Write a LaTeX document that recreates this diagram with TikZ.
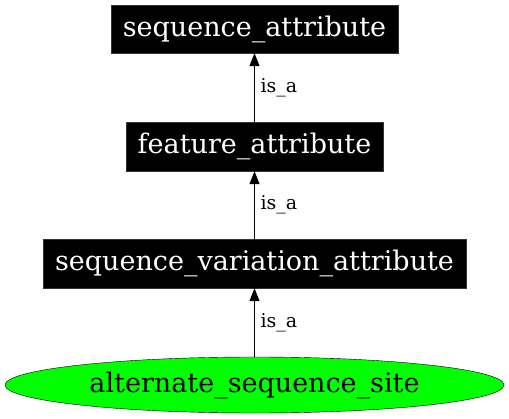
\documentclass[tikz,border=0pt]{standalone}
\usepackage{fontspec}
\setmainfont{DejaVu Serif}
\usetikzlibrary{arrows.meta,shapes.geometric}

\tikzset{
  termbox/.style={fill=black,draw=black!80,text=white,inner sep=0pt,
    font=\fontsize{27}{30}\selectfont},
  termsite/.style={ellipse,fill=green,draw=black,inner sep=0pt,
    font=\fontsize{27}{30}\selectfont},
  isa/.style={draw=black,line width=1pt,-{Triangle[length=13pt,width=10pt]}},
  isalabel/.style={midway,anchor=west,inner sep=0pt,xshift=5.5pt,
    font=\fontsize{19}{21}\selectfont}
}

\begin{document}
\begin{tikzpicture}[x=1pt,y=-1pt]

\useasboundingbox (0,0) rectangle (509,419);

\node[termbox,minimum width=287pt,minimum height=48pt] (seqattr) at (254.5,29) {sequence\_attribute};
\node[termbox,minimum width=257pt,minimum height=49pt] (featattr) at (254.5,146.5) {feature\_attribute};
\node[termbox,minimum width=423pt,minimum height=49pt] (seqvarattr) at (254.5,263.5) {sequence\_variation\_attribute};
\node[termsite,minimum width=499pt,minimum height=56pt] (altseqsite) at (254.5,385) {alternate\_sequence\_site};

\draw[isa] (featattr) -- (seqattr) node[isalabel] {is\_a};
\draw[isa] (seqvarattr) -- (featattr) node[isalabel] {is\_a};
\draw[isa] (altseqsite) -- (seqvarattr) node[isalabel] {is\_a};

\end{tikzpicture}
\end{document}
